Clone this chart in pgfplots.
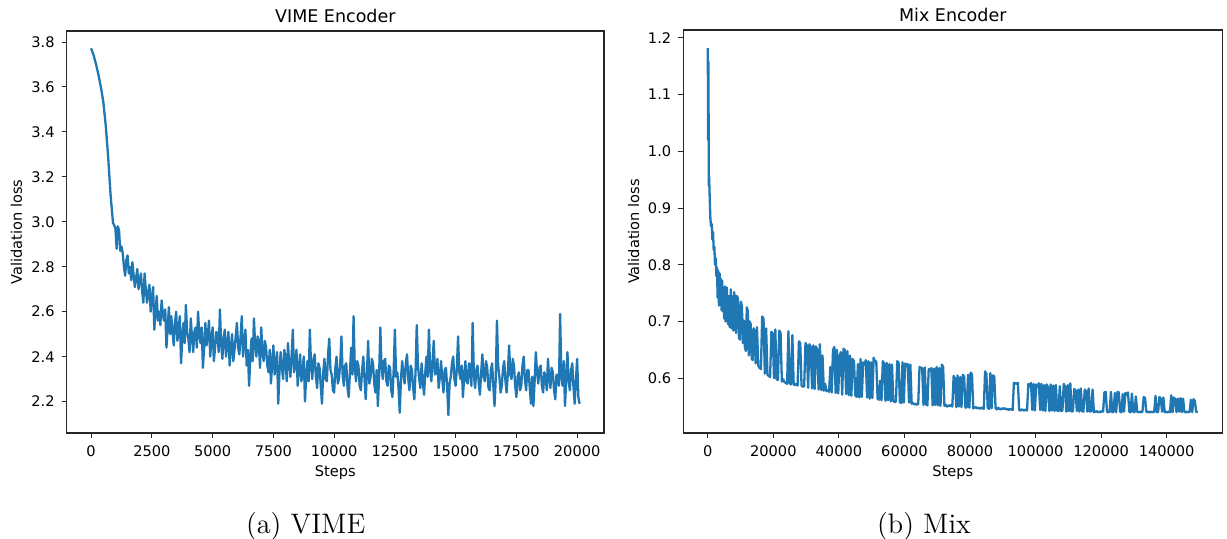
\documentclass[border=0pt]{standalone}
\usepackage{fontspec}
\usepackage{pgfplots}
\pgfplotsset{compat=1.18}
\newfontfamily\djv{DejaVu Sans}
\definecolor{mplblue}{HTML}{1F77B4}
\definecolor{frame}{HTML}{262626}
\begin{document}
\begin{tikzpicture}
\path[use as bounding box] (0,0) rectangle (613.5pt,269pt);
\pgfplotsset{
  mpl/.style={
    scale only axis,
    axis line style={frame, line width=0.6pt},
    tick align=outside,
    major tick length=2.5pt,
    every tick/.style={frame, line width=0.5pt},
    xtick pos=left, ytick pos=left,
    ticklabel style={font=\djv\fontsize{7.3}{8}\selectfont, /pgf/number format/assume math mode=true},
    yticklabel style={anchor=east, inner sep=0pt, xshift=-3.35pt},
    xticklabel style={anchor=north, inner sep=0pt, yshift=-3.5pt},
    scaled x ticks=false, scaled y ticks=false,
    xticklabel={\pgfmathprintnumber[fixed, precision=0, set thousands separator={}, assume math mode=true]{\tick}},
    yticklabel={\pgfmathprintnumber[fixed, fixed zerofill, precision=1, assume math mode=true]{\tick}},
    every axis title/.style={at={(axis description cs:0.5,1)}, anchor=base, yshift=4.2pt, font=\djv\fontsize{8.75}{10}\selectfont},
    every axis x label/.style={at={(axis description cs:0.5,0)}, anchor=base, yshift=-21.5pt, font=\djv\fontsize{7.3}{8}\selectfont},
  },
  mplline/.style={color=mplblue, line width=1.15pt, line join=round, no marks},
}
\begin{axis}[mpl, at={(33.35pt,52.5pt)}, anchor=south west,
  width=268.65pt, height=201pt,
  xmin=-1005, xmax=21105, ymin=2.06, ymax=3.849,
  xtick={0,2500,...,20000}, ytick={2.2,2.4,...,3.81},
  title={VIME Encoder}, xlabel={Steps}, ylabel={Validation loss},
  every axis y label/.style={at={(axis description cs:-0.0832,0.5)}, rotate=90, anchor=base, font=\djv\fontsize{7.3}{8}\selectfont},
]
\addplot[mplline] table {
x y
0 3.772
100 3.742
200 3.702
300 3.655
400 3.600
500 3.535
600 3.430
700 3.290
800 3.120
900 2.995
950 2.985
1000 2.97
1050 2.88
1100 2.98
1150 2.96
1200 2.87
1250 2.89
1300 2.86
1350 2.80
1400 2.76
1450 2.83
1500 2.85
1550 2.77
1600 2.80
1650 2.74
1700 2.82
1750 2.76
1800 2.71
1850 2.75
1900 2.79
1950 2.70
2000 2.74
2050 2.77
2100 2.69
2150 2.64
2200 2.77
2250 2.70
2300 2.64
2350 2.69
2400 2.72
2450 2.60
2500 2.66
2550 2.71
2600 2.52
2650 2.60
2700 2.67
2750 2.56
2800 2.60
2850 2.54
2900 2.65
2950 2.59
3000 2.56
3050 2.61
3100 2.44
3150 2.53
3200 2.62
3250 2.50
3300 2.58
3350 2.51
3400 2.45
3450 2.55
3500 2.60
3550 2.47
3600 2.52
3650 2.58
3700 2.37
3750 2.48
3800 2.55
3850 2.46
3900 2.63
3950 2.51
4000 2.48
4050 2.42
4100 2.57
4150 2.49
4200 2.42
4250 2.51
4300 2.53
4350 2.44
4400 2.60
4450 2.50
4500 2.46
4550 2.53
4600 2.35
4650 2.44
4700 2.55
4750 2.45
4800 2.49
4850 2.56
4900 2.40
4950 2.47
5000 2.53
5050 2.38
5100 2.44
5150 2.51
5200 2.50
5250 2.42
5300 2.61
5350 2.46
5400 2.39
5450 2.48
5500 2.52
5550 2.40
5600 2.45
5650 2.51
5700 2.36
5750 2.44
5800 2.50
5850 2.38
5900 2.43
5950 2.49
6000 2.55
6050 2.44
6100 2.41
6150 2.49
6200 2.58
6250 2.40
6300 2.46
6350 2.52
6400 2.36
6450 2.43
6500 2.27
6550 2.39
6600 2.48
6650 2.38
6700 2.57
6750 2.45
6800 2.40
6850 2.49
6900 2.46
6950 2.35
7000 2.53
7050 2.42
7100 2.38
7150 2.47
7200 2.44
7250 2.36
7300 2.33
7350 2.43
7400 2.28
7450 2.37
7500 2.45
7550 2.32
7600 2.37
7650 2.42
7700 2.19
7750 2.33
7800 2.42
7850 2.35
7900 2.30
7950 2.43
8000 2.39
8050 2.29
8100 2.46
8150 2.37
8200 2.31
8250 2.40
8300 2.52
8350 2.33
8400 2.36
8450 2.43
8500 2.27
8550 2.35
8600 2.41
8650 2.29
8700 2.33
8750 2.40
8800 2.20
8850 2.31
8900 2.38
8950 2.29
9000 2.52
9050 2.36
9100 2.30
9150 2.39
9200 2.41
9250 2.31
9300 2.26
9350 2.37
9400 2.35
9450 2.27
9500 2.19
9550 2.33
9600 2.39
9650 2.30
9700 2.29
9750 2.41
9800 2.48
9850 2.34
9900 2.32
9950 2.25
10000 2.24
10050 2.35
10100 2.40
10150 2.28
10200 2.30
10250 2.37
10300 2.49
10350 2.32
10400 2.27
10450 2.36
10500 2.37
10550 2.26
10600 2.22
10650 2.33
10700 2.44
10750 2.32
10800 2.58
10850 2.35
10900 2.29
10950 2.38
11000 2.36
11050 2.27
11100 2.25
11150 2.34
11200 2.40
11250 2.30
11300 2.21
11350 2.33
11400 2.47
11450 2.28
11500 2.31
11550 2.39
11600 2.37
11650 2.28
11700 2.24
11750 2.34
11800 2.18
11850 2.31
11900 2.53
11950 2.36
12000 2.30
12050 2.38
12100 2.39
12150 2.29
12200 2.27
12250 2.36
12300 2.35
12350 2.25
12400 2.22
12450 2.34
12500 2.52
12550 2.31
12600 2.33
12650 2.26
12700 2.15
12750 2.30
12800 2.38
12850 2.32
12900 2.28
12950 2.37
13000 2.41
13050 2.30
13100 2.25
13150 2.36
13200 2.34
13250 2.26
13300 2.21
13350 2.33
13400 2.54
13450 2.36
13500 2.30
13550 2.26
13600 2.37
13650 2.29
13700 2.23
13750 2.33
13800 2.40
13850 2.31
13900 2.52
13950 2.34
14000 2.29
14050 2.38
14100 2.47
14150 2.32
14200 2.33
14250 2.39
14300 2.26
14350 2.31
14400 2.38
14450 2.30
14500 2.24
14550 2.34
14600 2.35
14650 2.27
14700 2.14
14750 2.28
14800 2.31
14850 2.37
14900 2.40
14950 2.30
15000 2.27
15050 2.35
15100 2.49
15150 2.33
15200 2.30
15250 2.36
15300 2.22
15350 2.31
15400 2.38
15450 2.29
15500 2.28
15550 2.37
15600 2.34
15650 2.27
15700 2.55
15750 2.32
15800 2.26
15850 2.34
15900 2.36
15950 2.28
16000 2.23
16050 2.33
16100 2.41
16150 2.31
16200 2.29
16250 2.38
16300 2.35
16350 2.26
16400 2.25
16450 2.34
16500 2.37
16550 2.27
16600 2.18
16650 2.30
16700 2.56
16750 2.36
16800 2.31
16850 2.24
16900 2.27
16950 2.35
17000 2.38
17050 2.29
17100 2.24
17150 2.33
17200 2.45
17250 2.32
17300 2.30
17350 2.39
17400 2.36
17450 2.27
17500 2.22
17550 2.31
17600 2.33
17650 2.25
17700 2.27
17750 2.36
17800 2.40
17850 2.30
17900 2.25
17950 2.34
18000 2.34
18050 2.26
18100 2.19
18150 2.31
18200 2.18
18250 2.29
18300 2.42
18350 2.33
18400 2.28
18450 2.35
18500 2.36
18550 2.27
18600 2.24
18650 2.33
18700 2.31
18750 2.25
18800 2.39
18850 2.30
18900 2.26
18950 2.35
19000 2.33
19050 2.25
19100 2.21
19150 2.32
19200 2.30
19250 2.27
19300 2.59
19350 2.31
19400 2.27
19450 2.38
19500 2.18
19550 2.30
19600 2.42
19650 2.29
19700 2.25
19750 2.34
19800 2.37
19850 2.26
19900 2.19
19950 2.30
20000 2.39
20050 2.22
20100 2.19
};
\end{axis}
\begin{axis}[mpl, at={(341.65pt,52.5pt)}, anchor=south west,
  width=269.5pt, height=201.5pt,
  xmin=-7475, xmax=156975, ymin=0.5034, ymax=1.214,
  xtick={0,20000,...,140000}, ytick={0.6,0.7,...,1.21},
  title={Mix Encoder}, xlabel={Steps}, ylabel={Validation loss},
  every axis y label/.style={at={(axis description cs:-0.0822,0.5)}, rotate=90, anchor=base, font=\djv\fontsize{7.3}{8}\selectfont},
]
\addplot[mplline] table {
x y
0 1.182
100 1.020
200 1.158
300 0.940
400 0.955
600 0.915
800 0.880
1000 0.868
1200 0.872
1400 0.845
1600 0.858
1800 0.826
2000 0.832
2200 0.800
2400 0.812
2600 0.780
2800 0.795
3000 0.742
3200 0.790
3400 0.728
3600 0.785
3800 0.735
4000 0.775
4200 0.720
4400 0.772
4600 0.718
4800 0.745
5000 0.705
5200 0.762
5400 0.700
5600 0.708
5800 0.760
6000 0.712
6200 0.695
6400 0.745
6600 0.692
6800 0.690
7000 0.757
7200 0.688
7400 0.745
7600 0.700
7800 0.684
8000 0.752
8300 0.742
8600 0.680
8900 0.745
9200 0.740
9500 0.672
9800 0.668
10100 0.735
10400 0.728
10700 0.662
11000 0.702
11300 0.655
11600 0.648
11900 0.725
12200 0.718
12500 0.640
12800 0.700
13100 0.695
13400 0.634
13700 0.632
14000 0.688
14300 0.683
14600 0.626
15000 0.690
15400 0.622
15800 0.618
16200 0.616
16600 0.709
17000 0.705
17400 0.608
17800 0.688
18200 0.606
18600 0.604
19000 0.602
19400 0.682
19800 0.679
20200 0.600
20600 0.686
21000 0.598
21400 0.597
21800 0.684
22200 0.680
22600 0.594
23000 0.598
23400 0.593
23800 0.592
24200 0.590
24600 0.683
25000 0.591
25400 0.589
25800 0.676
26200 0.589
26600 0.588
27000 0.590
27400 0.587
27800 0.665
28200 0.662
28600 0.587
29000 0.585
29400 0.586
29800 0.662
30200 0.658
30600 0.583
31000 0.660
31400 0.655
31800 0.582
32200 0.658
32600 0.581
33000 0.656
33400 0.650
33800 0.580
34200 0.660
34600 0.579
35000 0.640
35400 0.578
35800 0.590
36200 0.577
36600 0.579
37000 0.576
37400 0.620
37800 0.575
38200 0.650
38600 0.655
39000 0.574
39400 0.650
39800 0.573
40200 0.640
40600 0.646
41000 0.571
41400 0.652
41800 0.650
42200 0.572
42600 0.648
43000 0.570
43400 0.640
43800 0.569
44200 0.634
44600 0.630
45000 0.570
45400 0.567
45800 0.625
46200 0.566
46600 0.634
47000 0.567
47400 0.628
47800 0.624
48200 0.632
48600 0.566
49000 0.630
49400 0.564
49800 0.628
50200 0.565
50600 0.636
51000 0.630
51400 0.630
51800 0.564
52200 0.562
52600 0.596
53000 0.561
53400 0.630
53800 0.626
54200 0.560
54600 0.627
55000 0.561
55400 0.625
55800 0.559
56200 0.624
56600 0.560
57000 0.558
57400 0.559
57800 0.630
58200 0.628
58600 0.558
59000 0.556
59400 0.628
59800 0.557
60200 0.626
60600 0.622
61000 0.625
61400 0.557
61800 0.624
62200 0.555
62600 0.556
63000 0.554
63400 0.555
63800 0.553
64200 0.555
64600 0.620
65000 0.618
65400 0.618
65800 0.553
66200 0.619
66600 0.554
67000 0.552
67400 0.616
67800 0.614
68200 0.618
68600 0.552
69000 0.617
69400 0.553
69800 0.620
70200 0.552
70600 0.618
71000 0.551
71400 0.624
71800 0.620
72200 0.551
72600 0.553
73000 0.550
73400 0.552
73800 0.551
74200 0.553
74600 0.550
75000 0.604
75400 0.600
75800 0.549
76200 0.605
76600 0.550
77000 0.602
77400 0.549
77800 0.606
78200 0.603
78600 0.548
79000 0.549
79400 0.606
79800 0.548
80200 0.610
80600 0.607
81000 0.547
81400 0.548
81800 0.549
82200 0.547
82600 0.548
83000 0.546
83400 0.548
83800 0.547
84200 0.546
84600 0.612
85000 0.608
85400 0.548
85800 0.546
86200 0.609
86600 0.547
87000 0.605
87400 0.603
87800 0.547
88200 0.545
88600 0.548
89000 0.546
89400 0.545
89800 0.547
90200 0.546
90600 0.547
91000 0.545
91400 0.546
91800 0.544
92200 0.546
92600 0.545
93000 0.544
93400 0.592
93800 0.591
94200 0.590
94600 0.592
95000 0.544
95400 0.543
95800 0.545
96200 0.544
96600 0.543
97000 0.545
97400 0.543
97800 0.590
98200 0.586
98600 0.592
99000 0.544
99400 0.590
99800 0.543
100200 0.589
100600 0.585
101000 0.591
101400 0.544
101800 0.590
102200 0.543
102600 0.588
103000 0.542
103400 0.589
103800 0.584
104200 0.542
104600 0.589
105000 0.543
105400 0.587
105800 0.542
106200 0.588
106600 0.543
107000 0.542
107400 0.586
107800 0.542
108200 0.543
108600 0.590
109000 0.585
109400 0.541
109800 0.588
110200 0.542
110600 0.591
111000 0.541
111400 0.542
111800 0.581
112200 0.578
112600 0.542
113000 0.580
113400 0.541
113800 0.582
114200 0.542
114600 0.541
115000 0.580
115400 0.577
115800 0.541
116200 0.582
116600 0.541
117000 0.542
117400 0.580
117800 0.540
118200 0.541
118600 0.542
119000 0.540
119400 0.541
119800 0.540
120200 0.542
120600 0.541
121000 0.575
121400 0.576
121800 0.541
122200 0.540
122600 0.541
123000 0.576
123400 0.540
123800 0.541
124200 0.574
124600 0.540
125000 0.576
125400 0.575
125800 0.541
126200 0.540
126600 0.572
127000 0.541
127400 0.574
127800 0.571
128200 0.575
128600 0.541
129000 0.540
129400 0.573
129800 0.541
130200 0.540
130600 0.568
131000 0.541
131400 0.540
131800 0.541
132200 0.540
132600 0.541
133000 0.567
133400 0.565
133800 0.541
134200 0.540
134600 0.541
135000 0.540
135400 0.541
135800 0.540
136200 0.541
136600 0.569
137000 0.540
137400 0.541
137800 0.567
138200 0.564
138600 0.541
139000 0.566
139400 0.540
139800 0.541
140200 0.540
140600 0.541
141000 0.540
141400 0.570
141800 0.540
142200 0.566
142600 0.563
143000 0.540
143400 0.564
143800 0.541
144200 0.565
144600 0.540
145000 0.564
145400 0.541
145800 0.540
146200 0.541
146600 0.540
147000 0.541
147400 0.562
147800 0.540
148200 0.563
148600 0.560
149000 0.541
149500 0.540
};
\end{axis}
\node[anchor=base, font=\fontsize{14.1}{17}\selectfont, inner sep=0pt] at (152.85pt,2.5pt) {(a) VIME};
\node[anchor=base, font=\fontsize{14.1}{17}\selectfont, inner sep=0pt] at (462pt,2.5pt) {(b) Mix};
\end{tikzpicture}
\end{document}
